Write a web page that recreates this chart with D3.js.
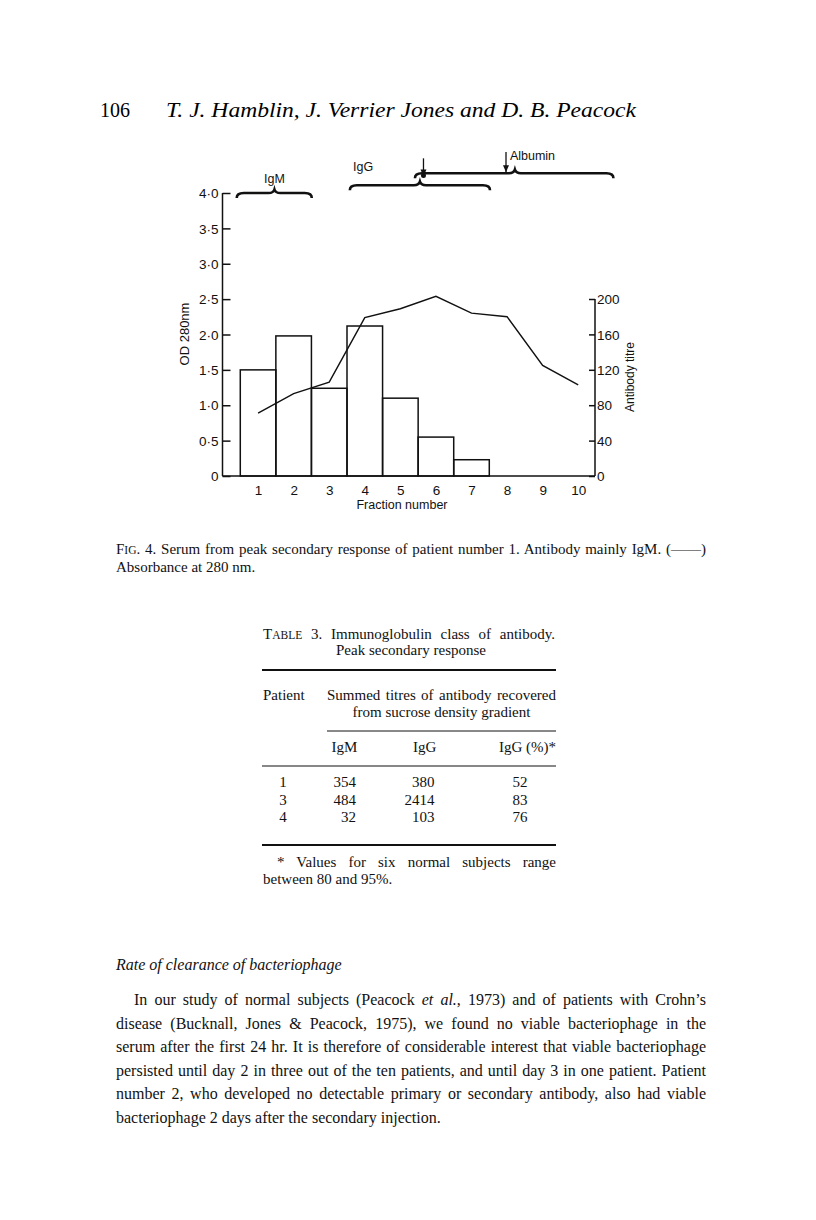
<!DOCTYPE html>
<html><head><meta charset="utf-8">
<script src="https://cdn.jsdelivr.net/npm/d3@7"></script>
<style>body{margin:0;background:#fff} svg{display:block}</style>
</head><body><svg id="c" width="816" height="1220"></svg>
<script>
// ---- chart data ----
const fractions = [1,2,3,4,5,6,7,8,9,10];
const barFractions = [1,2,3,4,5,6,7];
const odValues = [1.50,1.98,1.24,2.12,1.10,0.55,0.23];
const titreValues = [71,93,106,179,189,203,184,180,125,103];
const odTicks = [0,0.5,1,1.5,2,2.5,3,3.5,4];
const odTickLabels = ["0","0·5","1·0","1·5","2·0","2·5","3·0","3·5","4·0"];
const titreTicks = [0,40,80,120,160,200];
// braces (fraction units, OD units)
const braceNames = ["IgM","IgG","Albumin"];
const braceStart = [0.40,3.58,5.41];
const braceEnd = [2.51,7.52,10.99];
const braceMid = [1.46,5.55,8.22];
const braceLevel = [4.0,4.11,4.28];
const labelAt = [1.46,3.67,8.08];
const labelLevel = [4.14,4.31,4.46];
const arrowAt = [5.65,7.97];
const arrowTop = [4.49,4.58];
const arrowBottom = [4.22,4.28];
// ---- page text ----
const headerNumber = "106";
const headerAuthors = "T. J. Hamblin, J. Verrier Jones and D. B. Peacock";
const captionLine2 = "Absorbance at 280 nm.";
const tableRows = [["1","354","380","52"],["3","484","2414","83"],["4","32","103","76"]];
const paragraph = [
 "In our study of normal subjects (Peacock |et al.|, 1973) and of patients with Crohn’s",
 "disease (Bucknall, Jones & Peacock, 1975), we found no viable bacteriophage in the",
 "serum after the first 24 hr. It is therefore of considerable interest that viable bacteriophage",
 "persisted until day 2 in three out of the ten patients, and until day 3 in one patient. Patient",
 "number 2, who developed no detectable primary or secondary antibody, also had viable",
 "bacteriophage 2 days after the secondary injection."
];

const svg = d3.select("#c");
svg.append("rect").attr("width",816).attr("height",1220).attr("fill","#fff");
const serif = "'Liberation Serif','Times New Roman',serif";
const sans = "'Liberation Sans','DejaVu Sans',sans-serif";

function justify(t, width){
  const n = t.node();
  const natural = n.getComputedTextLength();
  const spaces = (n.textContent.match(/ /g)||[]).length;
  if(spaces>0) t.attr("word-spacing", ((width-natural)/spaces).toFixed(3));
}

// header
svg.append("text").attr("x",100).attr("y",117).attr("font-family",serif).attr("font-size",20).text(headerNumber);
svg.append("text").attr("x",166).attr("y",117).attr("font-family",serif).attr("font-size",21).attr("font-style","italic")
  .attr("textLength",470).attr("lengthAdjust","spacingAndGlyphs").text(headerAuthors);

// ---- chart ----
const x = d3.scaleLinear().domain([0,10.5]).range([222.5,596]);
const yL = d3.scaleLinear().domain([0,4]).range([476,193]);
const yR = d3.scaleLinear().domain([0,200]).range([476,299]);
const g = svg.append("g").attr("font-family",sans);

// bars
g.selectAll("rect.bar").data(barFractions).join("rect").attr("class","bar")
  .attr("x",d=>x(d-0.5)).attr("width",d=>x(d+0.5)-x(d-0.5))
  .attr("y",(d,i)=>yL(odValues[i])).attr("height",(d,i)=>yL(0)-yL(odValues[i]))
  .attr("fill","none").attr("stroke","#111").attr("stroke-width",1.5);

// left axis
const axL = d3.axisLeft(yL).tickValues(odTicks).tickSize(-8).tickPadding(4).tickFormat((d,i)=>odTickLabels[i]);
const gl = g.append("g").attr("transform",`translate(${x(0)},0)`).call(axL);
gl.select(".domain").remove();
gl.append("line").attr("x1",0).attr("x2",0).attr("y1",yL(0)).attr("y2",yL(4)).attr("stroke","#111").attr("stroke-width",1.5);
gl.selectAll(".tick line").attr("stroke","#111").attr("stroke-width",1.5);
gl.selectAll(".tick text").attr("font-size",13.5).attr("fill","#111").attr("font-family",sans).attr("dy","0.35em");

// right axis
const axR = d3.axisRight(yR).tickValues(titreTicks).tickSize(-6).tickPadding(2);
const gr = g.append("g").attr("transform",`translate(${x(10.5)-1},0)`).call(axR);
gr.select(".domain").remove();
gr.append("line").attr("x1",0).attr("x2",0).attr("y1",yR(0)).attr("y2",yR(200)).attr("stroke","#111").attr("stroke-width",1.5);
gr.selectAll(".tick line").attr("stroke","#111").attr("stroke-width",1.5);
gr.selectAll(".tick text").attr("font-size",13.5).attr("fill","#111").attr("font-family",sans).attr("dy","0.35em");

// bottom axis
const axB = d3.axisBottom(x).tickValues(fractions).tickSize(0).tickPadding(9);
const gb = g.append("g").attr("transform",`translate(0,${yL(0)})`).call(axB);
gb.select(".domain").remove();
gb.append("line").attr("x1",x(0)).attr("x2",x(10.5)-1).attr("y1",0).attr("y2",0).attr("stroke","#111").attr("stroke-width",1.5);
gb.selectAll(".tick text").attr("font-size",13.5).attr("fill","#111").attr("font-family",sans);

g.append("text").attr("x",402).attr("y",509).attr("text-anchor","middle").attr("font-size",12.5).attr("fill","#111").text("Fraction number");
g.append("text").attr("transform",`translate(189,334) rotate(-90)`).attr("text-anchor","middle").attr("font-size",13).attr("fill","#111").text("OD 280nm");
g.append("text").attr("transform",`translate(634,377) rotate(-90)`).attr("text-anchor","middle").attr("font-size",12).attr("fill","#111").text("Antibody titre");

// titre line
const line = d3.line().x(d=>x(d)).y((d,i)=>yR(titreValues[i]));
g.append("path").datum(fractions).attr("d",line).attr("fill","none").attr("stroke","#111").attr("stroke-width",1.4);

// braces
function bracePath(x0,x1,xm,y){
  const h=5,c=3.5,r=7;
  return `M${x0},${y+h} Q${x0},${y} ${x0+r},${y} L${xm-6},${y} Q${xm-1},${y} ${xm},${y-c} Q${xm+1},${y} ${xm+6},${y} L${x1-r},${y} Q${x1},${y} ${x1},${y+h}`;
}
g.selectAll("path.brace").data(braceNames).join("path").attr("class","brace")
  .attr("d",(d,i)=>bracePath(x(braceStart[i]),x(braceEnd[i]),x(braceMid[i]),yL(braceLevel[i])))
  .attr("fill","none").attr("stroke","#111").attr("stroke-width",2.6);
g.selectAll("text.blab").data(braceNames).join("text").attr("class","blab")
  .attr("x",(d,i)=>x(labelAt[i])).attr("y",(d,i)=>yL(labelLevel[i]))
  .attr("text-anchor",(d,i)=>i===0?"middle":"start").attr("font-size",12.5).attr("fill","#111").text(d=>d);
// arrows
arrowAt.forEach((a,i)=>{
  const ax=x(a), y0=yL(arrowTop[i]), y1=yL(arrowBottom[i]);
  g.append("line").attr("x1",ax).attr("x2",ax).attr("y1",y0).attr("y2",y1).attr("stroke","#111").attr("stroke-width",1.3);
  g.append("path").attr("d",`M${ax-3},${y1-8} L${ax+3},${y1-8} L${ax},${y1-1} Z`).attr("fill","#111");
});
g.append("circle").attr("cx",x(arrowAt[0])).attr("cy",yL(arrowBottom[0])-2).attr("r",2.5).attr("fill","#111");

// ---- caption ----
const cap = svg.append("text").attr("x",116).attr("y",554).attr("font-family",serif).attr("font-size",15).attr("fill","#111");
cap.append("tspan").text("F");
cap.append("tspan").attr("font-size",11.5).text("IG");
cap.append("tspan").text(". 4. Serum from peak secondary response of patient number 1. Antibody mainly IgM. (——)");
justify(cap,590);
svg.append("text").attr("x",116).attr("y",572).attr("font-family",serif).attr("font-size",15).attr("fill","#111").text(captionLine2);

// ---- table ----
const T = svg.append("g").attr("font-family",serif).attr("font-size",15).attr("fill","#111");
const tt = T.append("text").attr("x",263).attr("y",639);
tt.append("tspan").text("T");
tt.append("tspan").attr("font-size",11.5).text("ABLE");
tt.append("tspan").text(" 3. Immunoglobulin class of antibody.");
justify(tt,292);
T.append("text").attr("x",411).attr("y",655).attr("text-anchor","middle").text("Peak secondary response");
T.append("line").attr("x1",262).attr("x2",556).attr("y1",670).attr("y2",670).attr("stroke","#111").attr("stroke-width",2);
T.append("text").attr("x",263).attr("y",700).text("Patient");
justify(T.append("text").attr("x",327).attr("y",700).text("Summed titres of antibody recovered"),229);
T.append("text").attr("x",441.5).attr("y",717).attr("text-anchor","middle").text("from sucrose density gradient");
T.append("line").attr("x1",327).attr("x2",556).attr("y1",731).attr("y2",731).attr("stroke","#111").attr("stroke-width",1);
T.append("text").attr("x",331.5).attr("y",752).text("IgM");
T.append("text").attr("x",413).attr("y",752).text("IgG");
T.append("text").attr("x",556).attr("y",752).attr("text-anchor","end").text("IgG (%)*");
T.append("line").attr("x1",262).attr("x2",556).attr("y1",766).attr("y2",766).attr("stroke","#111").attr("stroke-width",1);
const colX = [283,356,434.5,527.5];
const colAnchor = ["middle","end","end","end"];
tableRows.forEach((r,ri)=>{
  r.forEach((v,ci)=>{
    T.append("text").attr("x",colX[ci]).attr("y",787+ri*17.5).attr("text-anchor",colAnchor[ci]).text(v);
  });
});
T.append("line").attr("x1",262).attr("x2",556).attr("y1",845).attr("y2",845).attr("stroke","#111").attr("stroke-width",2);
justify(T.append("text").attr("x",277).attr("y",867).text("* Values for six normal subjects range"),279);
T.append("text").attr("x",263).attr("y",884).text("between 80 and 95%.");

// ---- body text ----
const B = svg.append("g").attr("font-family",serif).attr("font-size",16).attr("fill","#111");
B.append("text").attr("x",116).attr("y",970).attr("font-style","italic").text("Rate of clearance of bacteriophage");
paragraph.forEach((ln,i)=>{
  const x0 = i===0?134:116;
  const t = B.append("text").attr("x",x0).attr("y",1005+i*23.5);
  ln.split("|").forEach((part,j)=>{ t.append("tspan").attr("font-style",j%2?"italic":"normal").text(part); });
  if(i<5) justify(t,706-x0);
});
</script></body></html>
